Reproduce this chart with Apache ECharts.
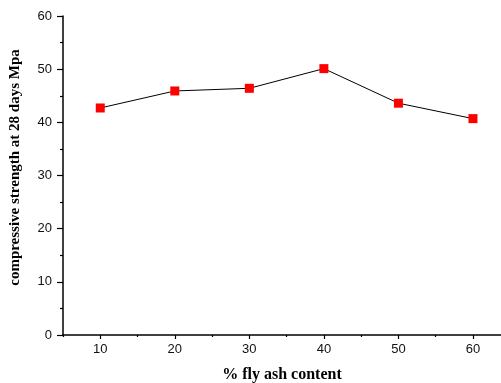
<!DOCTYPE html>
<html><head><meta charset="utf-8">
<script src="https://cdn.jsdelivr.net/npm/echarts@6/dist/echarts.min.js"></script>
<style>html,body{margin:0;padding:0;background:#fff}#c{width:501px;height:383px}</style>
</head><body><div id="c"></div>
<script>
const flyAsh = [10, 20, 30, 40, 50, 60];
const strength = [42.7, 45.9, 46.4, 50.1, 43.6, 40.7];
const xMajorTicks = [10, 20, 30, 40, 50, 60];
const xMinorTicks = [5, 15, 25, 35, 45, 55];
const xMin = 5, xMax = 63.76;

const chart = echarts.init(document.getElementById('c'), null, {renderer: 'canvas'});
const axisLineStyle = {color: '#000', width: 1.5};
chart.setOption({
  animation: false,
  grid: {left: 63, top: 16, bottom: 48, right: 0, containLabel: false, outerBoundsMode: 'none'},
  xAxis: [{
    type: 'value', min: xMin, max: xMax,
    name: '% fly ash content', nameLocation: 'middle', nameGap: 32,
    nameTextStyle: {fontFamily: 'Liberation Serif', fontWeight: 'bold', fontSize: 16, color: '#000'},
    axisLine: {lineStyle: axisLineStyle},
    axisTick: {show: true, customValues: xMajorTicks, length: 4, lineStyle: {color: '#000', width: 1.2}},
    axisLabel: {customValues: xMajorTicks, margin: 8, fontFamily: 'Liberation Sans', fontSize: 13, color: '#111'},
    splitLine: {show: false}
  }, {
    type: 'value', min: xMin, max: xMax, position: 'bottom',
    axisLine: {show: false},
    axisTick: {show: true, customValues: xMinorTicks, length: 2, lineStyle: {color: '#000', width: 1.2}},
    axisLabel: {show: false},
    splitLine: {show: false}
  }],
  yAxis: {
    type: 'value', min: 0, max: 60, interval: 10,
    name: 'compressive strength at 28 days Mpa', nameLocation: 'middle', nameGap: 40,
    nameTextStyle: {fontFamily: 'Liberation Serif', fontWeight: 'bold', fontSize: 15, color: '#000', padding: [0, 0, 0, 16]},
    axisLine: {show: true, lineStyle: axisLineStyle},
    axisTick: {show: true, length: 6, lineStyle: {color: '#000', width: 1.2}},
    minorTick: {show: true, splitNumber: 2, length: 3, lineStyle: {color: '#000', width: 1.2}},
    axisLabel: {margin: 11, fontFamily: 'Liberation Sans', fontSize: 13, color: '#111'},
    splitLine: {show: false}
  },
  series: [{
    type: 'line',
    data: flyAsh.map((x, i) => [x, strength[i]]),
    lineStyle: {color: '#000', width: 1},
    symbol: 'rect', symbolSize: 9,
    itemStyle: {color: '#ff0000', borderWidth: 0},
    z: 3
  }]
});
</script></body></html>
